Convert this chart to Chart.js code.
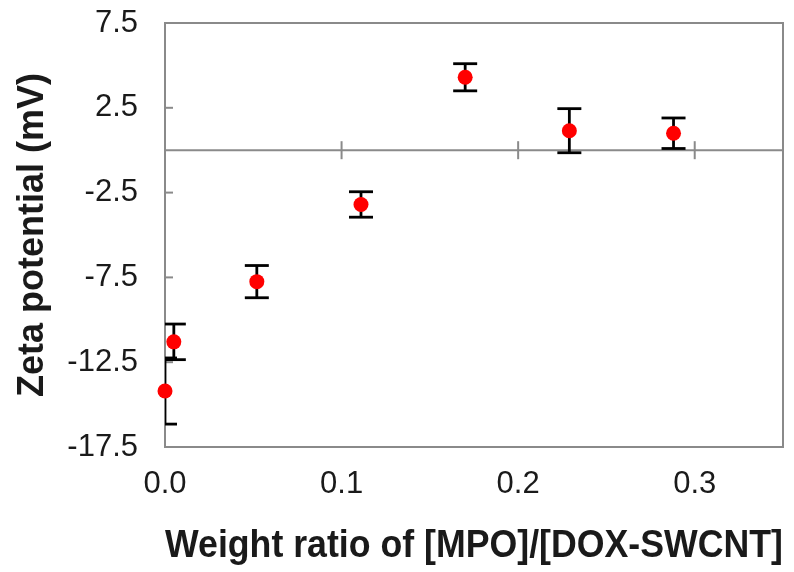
<!DOCTYPE html>
<html lang="en">
<head>
    <meta charset="UTF-8">
    <title>Zeta potential</title>
    <script src="https://cdn.jsdelivr.net/npm/chart.js"></script>
    <style>
        html, body {
            margin: 0;
            padding: 0;
            background-color: #fff;
        }
        .chart-container {
            width: 794px;
            height: 572px;
        }
    </style>
</head>
<body>
    <div class="chart-container">
        <canvas id="zetaChart"></canvas>
    </div>

    <script>
        // data
        const weightRatio = [0.0, 0.005, 0.052, 0.111, 0.170, 0.229, 0.288];
        const zetaMean = [-14.2, -11.3, -7.75, -3.2, 4.3, 1.15, 1.0];
        const zetaErr = [1.95, 1.05, 0.95, 0.75, 0.8, 1.3, 0.9];
        const xTicks = [0.0, 0.1, 0.2, 0.3];
        const yTicks = [7.5, 2.5, -2.5, -7.5, -12.5, -17.5];

        const points = weightRatio.map((x, i) => ({ x: x, y: zetaMean[i] }));

        // frame, zero line, inner ticks and error bars
        const frameAndBars = {
            id: 'frameAndBars',
            beforeDatasetsDraw(chart) {
                const { ctx, chartArea: a, scales: { x, y } } = chart;
                const line = (x1, y1, x2, y2) => {
                    ctx.beginPath();
                    ctx.moveTo(x1, y1);
                    ctx.lineTo(x2, y2);
                    ctx.stroke();
                };
                ctx.save();
                ctx.strokeStyle = '#8a8a8a';
                ctx.lineWidth = 2;
                ctx.strokeRect(a.left, a.top, a.right - a.left, a.bottom - a.top);

                const y0 = y.getPixelForValue(0);
                line(a.left, y0, a.right, y0);
                xTicks.forEach(v => {
                    if (v === 0) return;
                    const px = x.getPixelForValue(v);
                    line(px, y0 - 9, px, y0 + 9);
                });
                yTicks.forEach(v => {
                    const py = y.getPixelForValue(v);
                    if (py <= a.top + 1 || py >= a.bottom - 1) return;
                    line(a.left, py, a.left + 8, py);
                });

                // error bars are clipped to the plot box, the dots are not
                ctx.beginPath();
                ctx.rect(a.left, a.top, a.right - a.left, a.bottom - a.top);
                ctx.clip();
                ctx.strokeStyle = '#000';
                ctx.lineWidth = 2.8;
                weightRatio.forEach((xv, i) => {
                    const px = x.getPixelForValue(xv);
                    const hi = y.getPixelForValue(zetaMean[i] + zetaErr[i]);
                    const lo = y.getPixelForValue(zetaMean[i] - zetaErr[i]);
                    line(px, hi, px, lo);
                    line(px - 12, hi, px + 12, hi);
                    line(px - 12, lo, px + 12, lo);
                });
                ctx.restore();
            }
        };

        Chart.defaults.font.family = '"Liberation Sans", Arial, sans-serif';
        Chart.defaults.color = '#1a1a1a';

        const ctx = document.getElementById('zetaChart').getContext('2d');
        const zetaChart = new Chart(ctx, {
            type: 'scatter',
            data: {
                datasets: [{
                    label: 'Zeta potential',
                    data: points,
                    backgroundColor: '#ff0000',
                    borderWidth: 0,
                    pointRadius: 7.5,
                    pointHoverRadius: 7.5,
                    clip: false
                }]
            },
            options: {
                responsive: true,
                maintainAspectRatio: false,
                animation: false,
                layout: {
                    padding: { top: 23, right: 11, left: 0, bottom: 0 }
                },
                plugins: {
                    legend: { display: false },
                    tooltip: { enabled: false }
                },
                scales: {
                    x: {
                        type: 'linear',
                        min: 0,
                        max: 0.35,
                        afterBuildTicks: s => { s.ticks = xTicks.map(v => ({ value: v })); },
                        afterFit: s => {
                            s.height = 125;
                            s.paddingLeft = 0;
                            s.paddingRight = 0;
                        },
                        grid: { display: false, drawTicks: false },
                        border: { display: false },
                        ticks: {
                            padding: 19,
                            font: { size: 31 },
                            callback: v => v.toFixed(1)
                        },
                        title: {
                            display: true,
                            text: 'Weight ratio of [MPO]/[DOX-SWCNT]',
                            font: { size: 38, weight: 'bold' },
                            padding: { top: 0, bottom: 3 }
                        }
                    },
                    y: {
                        min: -17.5,
                        max: 7.5,
                        afterBuildTicks: s => { s.ticks = yTicks.map(v => ({ value: v })); },
                        afterFit: s => {
                            s.width = 165;
                            s.paddingTop = 0;
                            s.paddingBottom = 0;
                        },
                        grid: { display: false, drawTicks: false },
                        border: { display: false },
                        ticks: {
                            padding: 27,
                            font: { size: 31 },
                            callback: v => v.toFixed(1)
                        },
                        title: {
                            display: true,
                            text: 'Zeta potential (mV)',
                            font: { size: 36, weight: 'bold' },
                            padding: { top: 11, bottom: 0 }
                        }
                    }
                }
            },
            plugins: [frameAndBars]
        });
    </script>
</body>
</html>
